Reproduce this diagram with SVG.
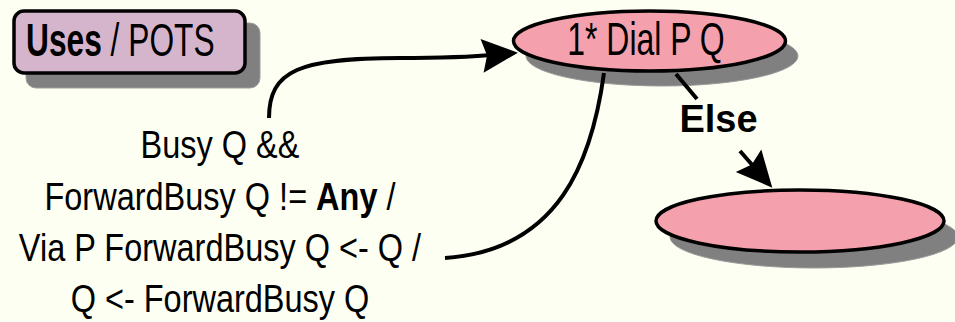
<svg xmlns="http://www.w3.org/2000/svg" width="955" height="322" viewBox="0 0 955 322">
  <style>
    .bg { fill: #fefff3; }
    .shadow { fill: #808080; stroke: #9c9c9c; stroke-width: 1; }
    .box { fill: #d5b5cc; stroke: #000; stroke-width: 3.5; }
    .state { fill: #f5a1ad; stroke: #000; stroke-width: 3.5; }
    .edge { fill: none; stroke: #000; stroke-width: 4; }
    .big { font-family: "Liberation Sans", Arial, sans-serif; font-size: 47px; fill: #000; }
    .lbl { font-family: "Liberation Sans", Arial, sans-serif; font-size: 38px; fill: #000; }
    .b { font-weight: bold; }
  </style>
  <defs>
    <marker id="arrow" viewBox="-40 -20 42 40" markerWidth="42" markerHeight="40" refX="-20" refY="0" orient="auto" markerUnits="userSpaceOnUse">
      <path d="M0,0 L-36,-17 L-31,0 L-36,17 Z" fill="#000"/>
    </marker>
  </defs>

  <rect class="bg" x="0" y="0" width="955" height="322"/>

  <!-- title box -->
  <g id="uses-pots">
    <rect class="shadow" x="26" y="23" width="234" height="65" rx="10"/>
    <rect class="box" x="14" y="11" width="231" height="62" rx="10"/>
    <text class="big" transform="translate(26,56) scale(0.675,1)"><tspan class="b">Uses</tspan> / POTS</text>
  </g>

  <!-- dial state -->
  <g id="dial">
    <ellipse class="shadow" cx="662" cy="56" rx="136" ry="30"/>
    <ellipse class="state" cx="649.5" cy="41" rx="136" ry="30"/>
    <text class="big" text-anchor="middle" transform="translate(646,55) scale(0.68,1)">1* Dial P Q</text>
  </g>

  <!-- target state -->
  <g id="target">
    <ellipse class="shadow" cx="814" cy="237" rx="144" ry="31"/>
    <ellipse class="state" cx="800" cy="221" rx="144" ry="31"/>
  </g>

  <!-- connectors -->
  <g id="connectors">
    <path class="edge" d="M269,118 C269,70 300,58 400,58 C440,58 470,57 498,54.5" marker-end="url(#arrow)"/>
    <path class="edge" d="M604,73 C592,160 560,250 445,258"/>
    <path class="edge" d="M676,74 L697,99 M740,151 L759.1,172.7" marker-end="url(#arrow)"/>
  </g>

  <!-- transition labels -->
  <g id="labels">
    <g class="lbl" transform="translate(220,0) scale(0.855,1)" text-anchor="middle">
      <text x="0" y="158">Busy Q &amp;&amp;</text>
      <text x="0" y="210">ForwardBusy Q != <tspan class="b">Any</tspan> /</text>
      <text x="0" y="261">Via P ForwardBusy Q &lt;- Q /</text>
      <text x="0" y="312">Q &lt;- ForwardBusy Q</text>
    </g>
    <text class="lbl b" x="718.5" y="132" text-anchor="middle" font-size="32">Else</text>
  </g>
</svg>
